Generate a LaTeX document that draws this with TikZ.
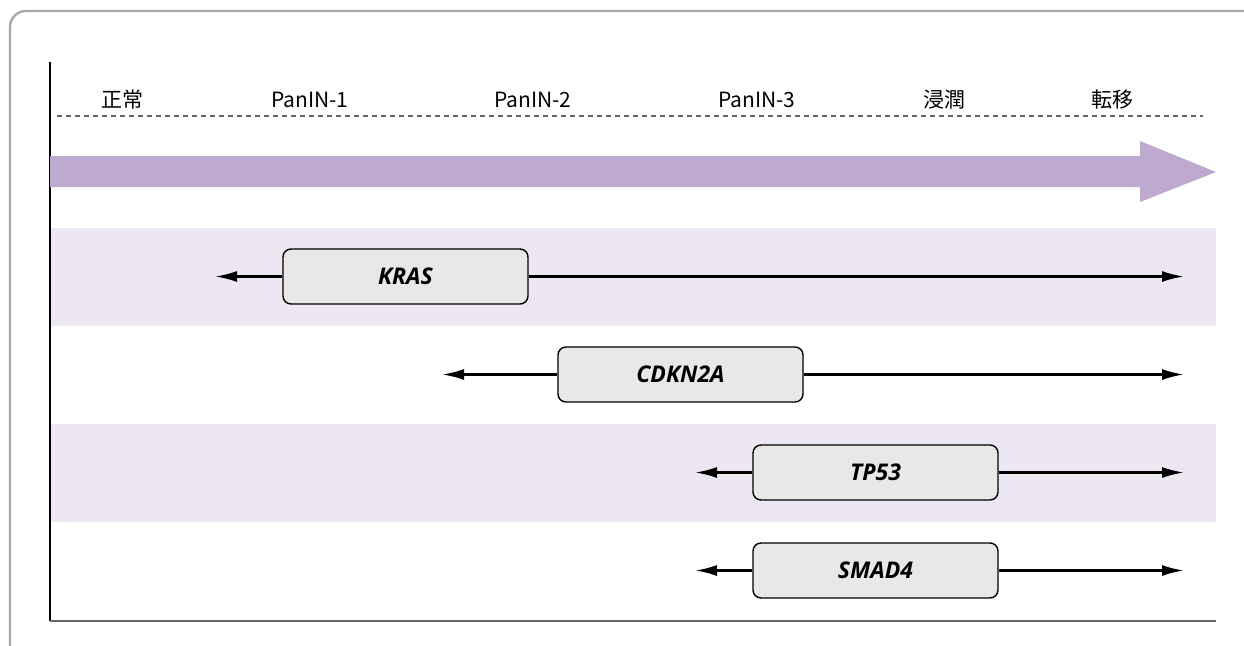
\documentclass[tikz,border=0pt]{standalone}
\usepackage{fontspec}
\setmainfont{Noto Sans CJK JP}
\newfontfamily\genefont{Open Sans}
\usetikzlibrary{arrows.meta}
\definecolor{frameGray}{HTML}{A8A8A8}
\definecolor{flowPurple}{HTML}{BEA9D1}
\definecolor{bandLav}{HTML}{EDE6F3}
\definecolor{boxGray}{HTML}{E8E8E8}
\definecolor{baseGray}{HTML}{666666}
\tikzset{
  x=1pt, y=-1pt,
  stage/.style={font=\fontsize{21}{24}\selectfont, anchor=base, inner sep=0pt},
  gene/.style={draw=black, line width=1.4pt, fill=boxGray, rounded corners=8pt,
    minimum width=245pt, minimum height=55pt, inner sep=0pt,
    font=\genefont\fontsize{23}{26}\selectfont\bfseries\itshape},
  span/.style={line width=2.4pt, -{Latex[length=22pt,width=11pt]}},
}
\begin{document}
\begin{tikzpicture}
\useasboundingbox (0,0) rectangle (1244,645);
% outer frame (runs past the right and bottom edges)
\draw[frameGray, line width=2.4pt, rounded corners=16pt]
  (10,660) -- (10,11) -- (1260,11);
% shaded rows
\fill[bandLav] (50,228) rectangle (1216,326);
\fill[bandLav] (50,424) rectangle (1216,522);
% axes
\draw[black, line width=1.4pt] (50,62) -- (50,621);
\draw[baseGray, line width=1.6pt] (50,621) -- (1216,621);
% stage labels
\node[stage] (s0) at (122,107) {正常};
\node[stage] (s1) at (310,107) {PanIN-1};
\node[stage] (s2) at (533,107) {PanIN-2};
\node[stage] (s3) at (757,107) {PanIN-3};
\node[stage] (s4) at (944,107) {浸潤};
\node[stage] (s5) at (1112,107) {転移};
\draw[baseGray, dashed, dash pattern=on 5pt off 4pt, line width=1.1pt] (57,116) -- (1203,116);
% progression arrow
\fill[flowPurple] (50,156) -- (1140,156) -- (1140,141) -- (1216,172)
  -- (1140,202) -- (1140,187) -- (50,187) -- cycle;
% gene boxes
\node[gene] (kras) at (405.5,276.5) {KRAS};
\node[gene] (cdkn) at (680.5,374.5) {CDKN2A};
\node[gene] (tp53) at (875.5,472.5) {TP53};
\node[gene] (smad) at (875.5,570.5) {SMAD4};
% span ends
\coordinate (krasL) at (215,276.5);
\coordinate (krasR) at (1184,276.5);
\coordinate (cdknL) at (442,374.5);
\coordinate (cdknR) at (1184,374.5);
\coordinate (tp53L) at (695,472.5);
\coordinate (tp53R) at (1184,472.5);
\coordinate (smadL) at (695,570.5);
\coordinate (smadR) at (1184,570.5);
\draw[span] (kras.west) -- (krasL);
\draw[span] (kras.east) -- (krasR);
\draw[span] (cdkn.west) -- (cdknL);
\draw[span] (cdkn.east) -- (cdknR);
\draw[span] (tp53.west) -- (tp53L);
\draw[span] (tp53.east) -- (tp53R);
\draw[span] (smad.west) -- (smadL);
\draw[span] (smad.east) -- (smadR);
\end{tikzpicture}
\end{document}
